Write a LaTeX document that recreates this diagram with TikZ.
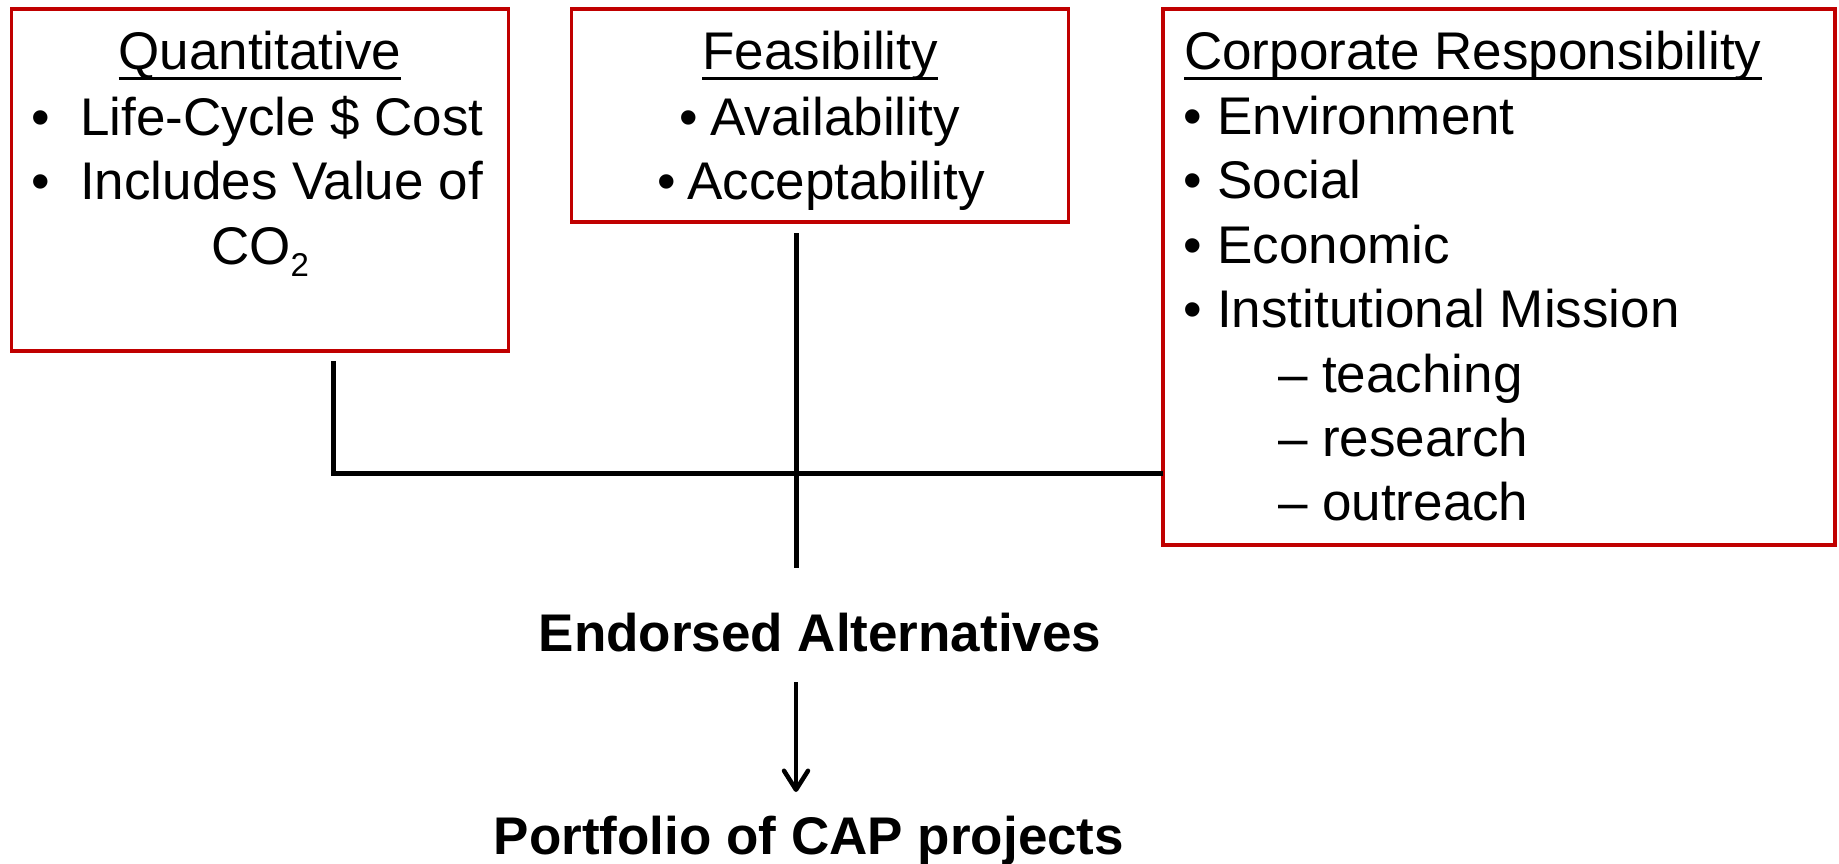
\documentclass[tikz,border=0pt]{standalone}
\usepackage{fontspec}
\setmainfont{Liberation Sans}
\usetikzlibrary{arrows.meta}
\definecolor{boxred}{RGB}{192,0,0}
\newcommand\myul[1]{\setbox0\hbox{#1}\rlap{\rule[-10.5pt]{\wd0}{3pt}}\box0}
\begin{document}
\begin{tikzpicture}[x=1pt,y=-1pt,
  box/.style={draw=boxred, line width=3.5pt, fill=white, inner sep=0pt, outer sep=0pt},
  txt/.style={inner sep=0pt, anchor=base west, font=\fontsize{53}{64}\selectfont},
  ctxt/.style={inner sep=0pt, anchor=base, font=\fontsize{53}{64}\selectfont},
  btxt/.style={inner sep=0pt, anchor=base, font=\fontsize{53}{64}\selectfont\bfseries},
  conn/.style={line width=5pt},
  arrowline/.style={line width=4.5pt, -{Straight Barb[length=19pt,width=24pt,round]}},
]
\useasboundingbox (0,0) rectangle (1839,863);

% boxes
\node[box, minimum width=497pt, minimum height=342pt] (qbox) at (260,180) {};
\node[box, minimum width=497pt, minimum height=213pt] (fbox) at (820,115.5) {};
\node[box, minimum width=672pt, minimum height=536pt] (cbox) at (1499,277) {};

% Quantitative
\node[ctxt] (qh) at (260,69) {\myul{Quantitative}};
\node[ctxt] (qb1) at (41,135) {\textbullet};
\node[txt] (q1) at (80,135) {Life-Cycle \$ Cost};
\node[ctxt] (qb2) at (41,199) {\textbullet};
\node[txt] (q2) at (80,199) {Includes Value of};
\node[ctxt] (q3) at (260,264) {CO\raisebox{-12pt}{\fontsize{33}{33}\selectfont 2}};

% Feasibility
\node[ctxt] (fh) at (820,69) {\myul{Feasibility}};
\node[ctxt] (fb1) at (689,135) {\textbullet};
\node[txt] (f1) at (710,135) {Availability};
\node[ctxt] (fb2) at (667,199) {\textbullet};
\node[txt] (f2) at (687,199) {Acceptability};

% Corporate Responsibility
\node[txt] (ch) at (1184,69) {\myul{Corporate Responsibility}};
\node[ctxt] (cb1) at (1193,134) {\textbullet};
\node[txt] (c1) at (1217,134) {Environment};
\node[ctxt] (cb2) at (1193,198) {\textbullet};
\node[txt] (c2) at (1217,198) {Social};
\node[ctxt] (cb3) at (1193,263) {\textbullet};
\node[txt] (c3) at (1217,263) {Economic};
\node[ctxt] (cb4) at (1193,327) {\textbullet};
\node[txt] (c4) at (1217,327) {Institutional Mission};
\node[txt] (cd1) at (1278,392) {\textendash};
\node[txt] (c5) at (1322,392) {teaching};
\node[txt] (cd2) at (1278,456) {\textendash};
\node[txt] (c6) at (1322,456) {research};
\node[txt] (cd3) at (1278,520) {\textendash};
\node[txt] (c7) at (1322,520) {outreach};

% bottom texts
\node[btxt] (endorsed) at (820,651) {Endorsed Alternatives};
\node[btxt] (portfolio) at (809,854) {Portfolio of CAP projects};

% connectors
\coordinate (qtap) at (333,361);
\coordinate (join) at (333,473);
\coordinate (ftap) at (796,233);
\coordinate (fend) at (796,568);
\coordinate (astart) at (796,682);
\coordinate (aend) at (796,792);
\draw[conn] (qtap) -- (join) -- (join -| cbox.west);
\draw[conn] (ftap) -- (fend);
\draw[arrowline] (astart) -- (aend);
\end{tikzpicture}
\end{document}
